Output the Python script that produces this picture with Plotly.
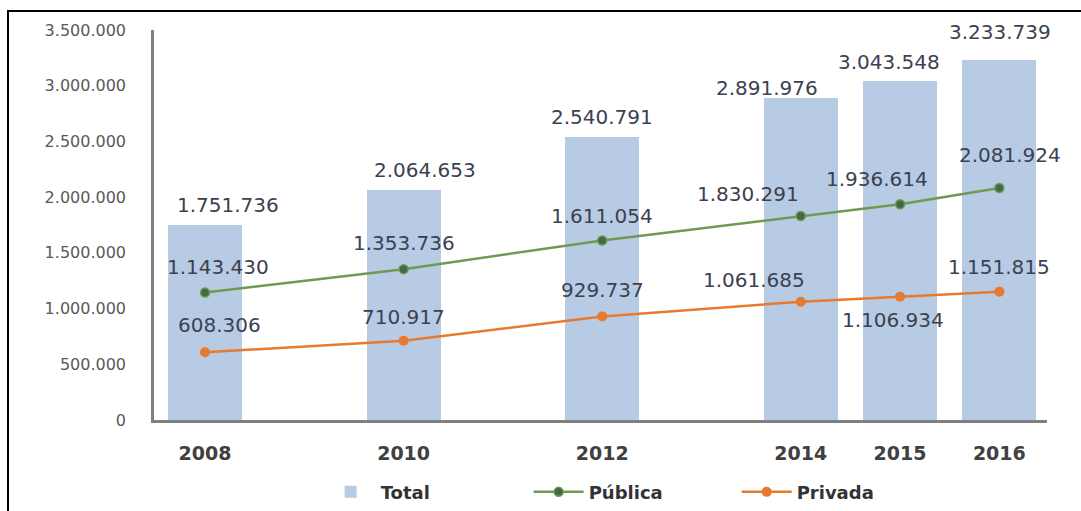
import plotly.graph_objects as go

years = [2008, 2010, 2012, 2014, 2015, 2016]
year_labels = ["2008", "2010", "2012", "2014", "2015", "2016"]
total = [1751736, 2064653, 2540791, 2891976, 3043548, 3233739]
publica = [1143430, 1353736, 1611054, 1830291, 1936614, 2081924]
privada = [608306, 710917, 929737, 1061685, 1106934, 1151815]
y_ticks = [0, 500000, 1000000, 1500000, 2000000, 2500000, 3000000, 3500000]
y_tick_labels = ["0", "500.000", "1.000.000", "1.500.000", "2.000.000",
                 "2.500.000", "3.000.000", "3.500.000"]

# label offsets in pixels (dx, dy up)
off_total = [(23, 20), (21, 20), (0, 20), (-34, 10), (-11, 19), (1, 28)]
off_pub = [(13, 26), (0, 26), (0, 24), (-53, 22), (-23, 25), (11, 33)]
off_priv = [(14, 27), (0, 24), (0, 26), (-47, 22), (-7, -23), (0, 25)]

def fmt(v):
    return f"{v:,}".replace(",", ".")

BAR = "#b7cbe4"
GREEN = "#6f9a52"
GREEN_DARK = "#3f6b45"
ORANGE = "#e77a2e"
LABEL = "#3c4150"

fig = go.Figure()
fig.add_trace(go.Bar(x=years, y=total, width=0.745, name="Total",
                     marker=dict(color=BAR, line=dict(width=0))))
fig.add_trace(go.Scatter(x=years, y=publica, name="Pública", mode="lines+markers",
                         line=dict(color=GREEN, width=2.5),
                         marker=dict(color=GREEN_DARK, size=9,
                                     line=dict(color=GREEN, width=1.5))))
fig.add_trace(go.Scatter(x=years, y=privada, name="Privada", mode="lines+markers",
                         line=dict(color=ORANGE, width=2.5),
                         marker=dict(color=ORANGE, size=10)))

annos = []
for series, offs in ((total, off_total), (publica, off_pub), (privada, off_priv)):
    for x, v, (dx, dy) in zip(years, series, offs):
        annos.append(dict(x=x, y=v, xref="x", yref="y", text=fmt(v),
                          showarrow=False, xshift=dx, yshift=dy,
                          font=dict(family="DejaVu Sans", size=20, color=LABEL)))

fig.update_layout(
    width=1081, height=511,
    margin=dict(l=154, r=34, t=30, b=91, autoexpand=False),
    paper_bgcolor="white", plot_bgcolor="white",
    annotations=annos,
    showlegend=True,
    legend=dict(orientation="h", x=0.536, xanchor="center", y=-0.185, yanchor="middle",
                font=dict(family="DejaVu Sans", size=18, color="#333333", weight="bold"),
                entrywidth=143, itemwidth=50, bgcolor="rgba(0,0,0,0)"),
    shapes=[dict(type="rect", xref="paper", yref="paper",
                 x0=-0.1635, x1=1.06, y0=-0.3, y1=1.0487,
                 line=dict(color="black", width=2), fillcolor="rgba(0,0,0,0)",
                 layer="above")],
    bargap=0,
)
fig.update_xaxes(range=[2007.486, 2016.48], tickvals=years, ticktext=year_labels,
                 showgrid=False, zeroline=False, showline=True, linecolor="#7f7f7f",
                 linewidth=2.5, ticks="", ticklabelstandoff=14,
                 tickfont=dict(family="DejaVu Sans", size=19, color="#404040", weight="bold"))
fig.update_yaxes(range=[0, 3500000], tickvals=y_ticks, ticktext=y_tick_labels,
                 showgrid=False, zeroline=False, showline=True, linecolor="#7f7f7f",
                 linewidth=2.5, ticks="", ticklabelstandoff=22,
                 tickfont=dict(family="DejaVu Sans", size=16, color="#595959"))

fig.write_html("out.html")
